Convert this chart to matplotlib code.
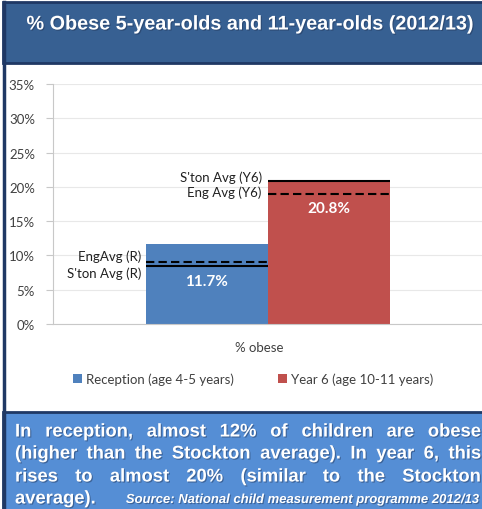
import matplotlib
matplotlib.use("Agg")
import matplotlib.pyplot as plt
from matplotlib.patches import Rectangle, Patch
from matplotlib.lines import Line2D
import matplotlib.patheffects as pe

# ---- data ----
categories = ['% obese']
series = ['Reception (age 4-5 years)', 'Year 6 (age 10-11 years)']
values = [11.7, 20.8]
eng_avg = [9.0, 18.9]
ston_avg = [8.4, 20.8]
eng_labels = ['EngAvg (R)', 'Eng Avg (Y6)']
ston_labels = ["S'ton Avg (R)", "S'ton Avg (Y6)"]
yticks = [0, 5, 10, 15, 20, 25, 30, 35]
title = '% Obese 5-year-olds and 11-year-olds (2012/13)'
body_lines = ['In reception, almost 12% of children are obese',
              '(higher than the Stockton average). In year 6, this',
              'rises to almost 20% (similar to the Stockton']
last_word = 'average).'
source = 'Source: National child measurement programme 2012/13'

colors = ['#4F81BD', '#C0504D']
W, H = 482, 510
fig = plt.figure(figsize=(W / 100, H / 100), dpi=100)
fig.patch.set_facecolor('white')
renderer = fig.canvas.get_renderer()
shadow = [pe.withSimplePatchShadow(offset=(0.8, -0.8), shadow_rgbFace='#1F3050', alpha=0.45)]

def px_rect(x, y, w, h, **kw):
    r = Rectangle((x / W, 1 - (y + h) / H), w / W, h / H, transform=fig.transFigure, **kw)
    fig.add_artist(r)
    return r

def fx(x):
    return x / W

def fy(y):
    return 1 - y / H

# header and bottom boxes
px_rect(3, 3, 492, 61, facecolor='#376092', edgecolor='#1F3864', linewidth=2, zorder=1)
px_rect(3, 413, 492, 100, facecolor='#558ED5', edgecolor='#1F3864', linewidth=2, zorder=1)
fig.add_artist(Line2D([fx(4), fx(4)], [fy(3), fy(510)], transform=fig.transFigure,
                      color='#1F3864', linewidth=2.5, zorder=2))

tt = fig.text(fx(249), fy(25), title, color='white', fontsize=12, fontweight='bold',
              family='Liberation Sans', ha='center', va='center', path_effects=shadow)
tw = tt.get_window_extent(renderer).width
tt.set_fontsize(12 * 445 / tw)

# ---- axes ----
ax = fig.add_axes([53 / W, (H - 325) / H, (W - 53) / W, (325 - 85) / H])
bw = 0.4
xs = [-bw / 2, bw / 2]
ax.bar(xs, values, width=bw, color=colors, zorder=2)
ax.set_xlim(-0.705, 0.702)
ax.set_ylim(0, 35)
ax.set_yticks(yticks)
ax.set_yticklabels([f'{v}%' for v in yticks], family='Lato', fontsize=9.5, color='#404040')
ax.set_xticks([])
ax.grid(axis='y', color='#E8E8E8', linewidth=0.8, zorder=0)
for s in ['top', 'right']:
    ax.spines[s].set_visible(False)
ax.spines['left'].set_color('#C8C8C8')
ax.spines['bottom'].set_color('#C8C8C8')
ax.tick_params(axis='y', length=5, color='#C8C8C8', pad=8)
ax.set_xlabel('% obese', family='Lato', fontsize=9.5, color='#404040', labelpad=12)
ax.xaxis.label.set_x((259 - 53) / (W - 53))

label_offsets = [5.4, 3.9]
for i in range(2):
    x0, x1 = xs[i] - bw / 2, xs[i] + bw / 2
    ax.hlines(eng_avg[i], x0, x1, colors='black', linestyles=(0, (4, 2)), linewidth=1.5, zorder=3)
    ax.hlines(ston_avg[i], x0, x1, colors='black', linewidth=1.5, zorder=3)
    ax.text(xs[i], values[i] - label_offsets[i], f'{values[i]}%',
            ha='center', va='center', color='white', fontsize=11, family='Lato',
            fontweight='bold', zorder=4)

# reference labels
lab_kw = dict(ha='right', va='center', fontsize=9.5, family='Lato', color='#202020')
ax.text(xs[0] - bw / 2 - 0.015, eng_avg[0] + 1.0, eng_labels[0], **lab_kw)
ax.text(xs[0] - bw / 2 - 0.015, ston_avg[0] - 0.9, ston_labels[0], **lab_kw)
ax.text(xs[1] - bw / 2 - 0.02, ston_avg[1] + 0.7, ston_labels[1], **lab_kw)
ax.text(xs[1] - bw / 2 - 0.02, eng_avg[1] + 0.4, eng_labels[1], **lab_kw)

handles = [Patch(facecolor=c, edgecolor='none') for c in colors]
fig.legend(handles, series, loc='center', bbox_to_anchor=(fx(253), fy(380)), ncol=2,
           frameon=False, prop={'family': 'Lato', 'size': 9.5}, handlelength=0.7,
           handleheight=0.7, handletextpad=0.3, columnspacing=3.3, labelcolor='#404040')

# ---- justified body text ----
left, right = 15, 481
probe = fig.text(0, 0, body_lines[1], fontsize=12, fontweight='bold', family='Liberation Sans')
pw = probe.get_window_extent(renderer).width
probe.remove()
fs = 12 * 430 / pw
line_y = [433, 455, 478]
for line, yy in zip(body_lines, line_y):
    words = line.split(' ')
    texts = []
    widths = []
    for w_ in words:
        t = fig.text(0, fy(yy), w_, color='white', fontsize=fs, fontweight='bold',
                     family='Liberation Sans', ha='left', va='center', path_effects=shadow)
        texts.append(t)
        widths.append(t.get_window_extent(renderer).width)
    gap = (right - left - sum(widths)) / (len(words) - 1)
    x = left
    for t, wd in zip(texts, widths):
        t.set_x(fx(x))
        x += wd + gap

fig.text(fx(left), fy(500), last_word, color='white', fontsize=fs, fontweight='bold',
         family='Liberation Sans', ha='left', va='center', path_effects=shadow)
st = fig.text(fx(479), fy(501), source, color='white', fontsize=8, fontweight='bold',
              style='italic', family='Liberation Sans', ha='right', va='center', path_effects=shadow)
sw = st.get_window_extent(renderer).width
st.set_fontsize(8 * 355 / sw)

fig.savefig('out.png', dpi=100, facecolor='white')
